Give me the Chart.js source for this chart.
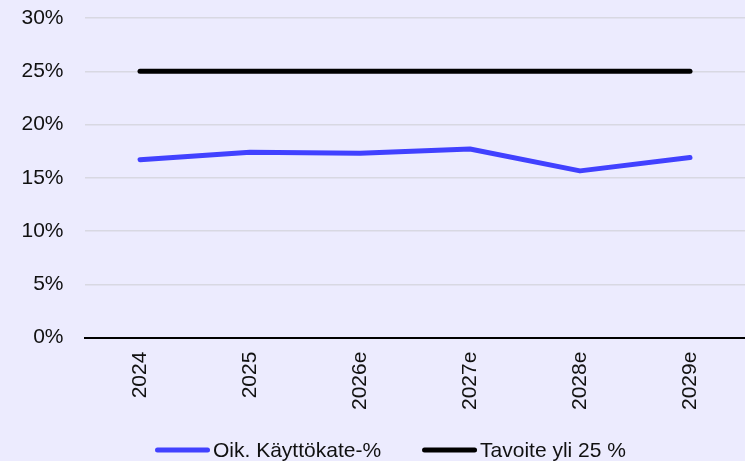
<!DOCTYPE html>
<html>
<head>
<meta charset="utf-8">
<script src="https://cdn.jsdelivr.net/npm/chart.js@4/dist/chart.umd.min.js"></script>
<style>
  html, body { margin: 0; padding: 0; background: #ecebfe; }
  #wrap { width: 745px; height: 461px; }
</style>
</head>
<body>
<div id="wrap"><canvas id="c" width="745" height="461"></canvas></div>
<script>
const categories = ["2024", "2025", "2026e", "2027e", "2028e", "2029e"];
const ebitdaPct = [16.7, 17.4, 17.3, 17.7, 15.65, 16.9];
const targetPct = [25, 25, 25, 25, 25, 25];
const seriesNames = ["Oik. Käyttökate-%", "Tavoite yli 25 %"];
const yTicks = [0, 5, 10, 15, 20, 25, 30];

const tickFont = { family: "'Liberation Sans', Arial, sans-serif", size: 21 };
const legendFontFamily = "'Liberation Sans', Arial, sans-serif";

const customLegend = {
  id: 'customLegend',
  afterDraw(chart) {
    const ctx = chart.ctx;
    ctx.save();
    ctx.font = "21px " + legendFontFamily;
    ctx.textBaseline = 'alphabetic';
    ctx.textAlign = 'left';
    let x = 155;
    const y = 450;
    chart.data.datasets.forEach(ds => {
      ctx.strokeStyle = ds.borderColor;
      ctx.lineWidth = 5;
      ctx.lineCap = 'round';
      ctx.beginPath();
      ctx.moveTo(x + 2.5, y);
      ctx.lineTo(x + 52.5, y);
      ctx.stroke();
      ctx.fillStyle = '#111';
      const tx = x + 58;
      ctx.fillText(ds.label, tx, y + 7);
      x = tx + ctx.measureText(ds.label).width + 41;
    });
    ctx.restore();
  }
};

new Chart(document.getElementById('c'), {
  type: 'line',
  data: {
    labels: categories,
    datasets: [
      { label: seriesNames[0], data: ebitdaPct, borderColor: '#4141ff', borderWidth: 5,
        pointRadius: 0, borderCapStyle: 'round', borderJoinStyle: 'round', tension: 0 },
      { label: seriesNames[1], data: targetPct, borderColor: '#000000', borderWidth: 5,
        pointRadius: 0, borderCapStyle: 'round', borderJoinStyle: 'round', tension: 0 }
    ]
  },
  options: {
    responsive: false,
    animation: false,
    devicePixelRatio: 1,
    layout: { padding: { top: 0, right: 0, left: 0, bottom: 37 } },
    plugins: { legend: { display: false }, tooltip: { enabled: false } },
    scales: {
      x: {
        offset: true,
        grid: { display: false, drawTicks: false },
        border: { display: true, color: '#000', width: 2 },
        ticks: { color: '#111', font: tickFont, maxRotation: 90, minRotation: 90, padding: 14, autoSkip: false }
      },
      y: {
        min: 0, max: 30,
        afterBuildTicks(axis) { axis.ticks = yTicks.map(v => ({ value: v })); },
        afterFit(axis) { axis.paddingTop = 18; },
        grid: { color: '#d8d8e2', lineWidth: 1.5, drawTicks: false },
        border: { display: false },
        ticks: { color: '#111', font: tickFont, padding: 21.5, callback: v => v + '%' }
      }
    }
  },
  plugins: [customLegend, {
    id: 'bg',
    beforeDraw(chart) {
      const c = chart.ctx; c.save(); c.fillStyle = '#ecebfe';
      c.fillRect(0, 0, chart.width, chart.height); c.restore();
    }
  }]
});
</script>
</body>
</html>
